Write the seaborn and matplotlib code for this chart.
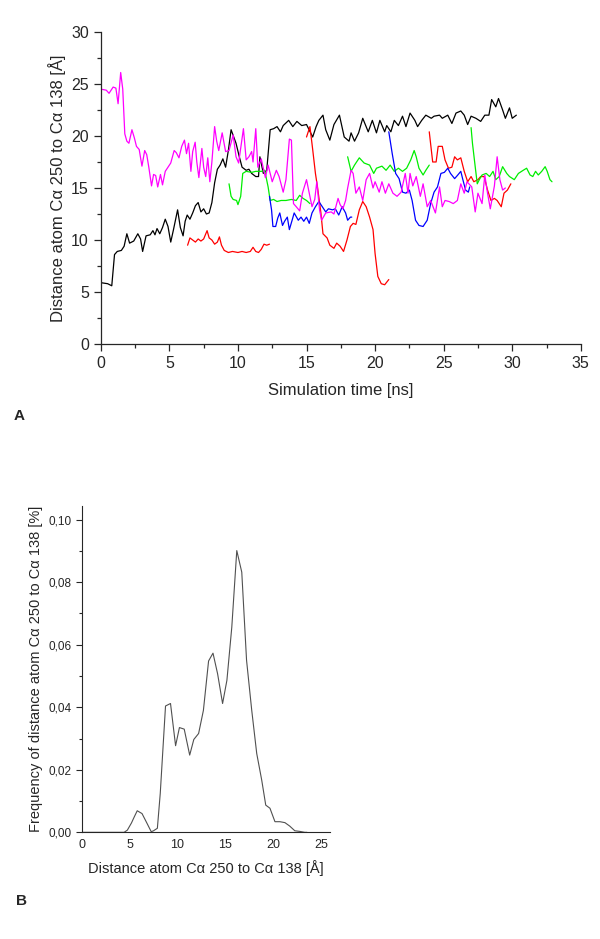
import pandas as pd
import matplotlib
matplotlib.use("Agg")
import matplotlib.pyplot as plt
import seaborn as sns
from matplotlib.ticker import MultipleLocator, FuncFormatter

# Panel A: distance traces (time [ns], distance [A])
black_run = [(0, 5.9), (0.5, 5.8), (0.8, 5.6), (1.0, 8.6), (1.2, 8.9), (1.5, 9.0), (1.7, 9.4), (1.9, 10.6),
             (2.1, 9.7), (2.4, 9.9), (2.7, 10.6), (2.9, 10.1), (3.05, 8.9), (3.3, 10.4), (3.6, 10.5), (3.8, 10.9),
             (3.95, 10.5), (4.1, 11.1), (4.3, 10.6), (4.5, 11.2), (4.7, 12.0), (4.9, 11.3), (5.1, 9.8), (5.3, 11.0),
             (5.6, 12.9), (5.8, 11.2), (6.0, 10.4), (6.15, 11.8), (6.3, 12.4), (6.5, 12.0), (6.7, 12.6), (6.9, 13.3),
             (7.1, 13.6), (7.3, 12.7), (7.5, 13.0), (7.7, 12.5), (7.9, 12.6), (8.1, 13.6), (8.3, 15.5), (8.5, 16.8),
             (8.7, 17.2), (8.9, 17.8), (9.1, 17.0), (9.3, 18.6), (9.5, 20.6), (9.86, 19.3), (10.1, 18.0), (10.3, 17.0),
             (10.6, 16.7), (10.8, 16.8), (11.0, 16.4), (11.3, 16.1), (11.5, 16.1), (11.6, 18.0), (11.85, 16.4),
             (12.1, 16.7), (12.35, 20.6), (12.6, 20.7), (12.85, 20.9), (13.1, 20.4), (13.3, 21.0), (13.7, 21.5),
             (14.0, 20.9), (14.3, 21.4), (14.65, 21.0), (15.0, 21.1), (15.45, 19.9), (15.7, 20.9), (15.9, 21.5),
             (16.2, 22.0), (16.4, 20.6), (16.7, 19.6), (17.0, 21.1), (17.4, 22.0), (17.75, 19.9), (18.1, 19.5),
             (18.25, 20.3), (18.5, 19.5), (18.8, 20.3), (19.1, 21.7), (19.5, 20.4), (19.8, 21.5), (20.1, 20.3),
             (20.35, 21.5), (20.7, 20.4), (20.85, 21.0), (21.15, 20.4), (21.4, 21.5), (21.7, 21.0), (22.0, 21.9),
             (22.25, 20.9), (22.55, 22.2), (22.9, 21.5), (23.1, 20.9), (23.4, 21.5), (23.7, 22.0), (24.1, 21.7),
             (24.3, 21.9), (24.7, 22.0), (24.9, 21.7), (25.3, 22.0), (25.6, 21.2), (25.9, 22.2), (26.25, 22.4),
             (26.5, 22.0), (26.75, 21.1), (27.0, 21.9), (27.35, 21.7), (27.7, 21.4), (28.0, 22.0), (28.3, 22.0),
             (28.5, 23.5), (28.8, 22.8), (29.0, 23.6), (29.3, 22.5), (29.5, 21.7), (29.8, 22.7), (30.0, 21.7),
             (30.3, 22.0)]

magenta_run = [(0, 24.5), (0.4, 24.4), (0.6, 24.1), (0.9, 24.7), (1.1, 24.6), (1.26, 23.1), (1.45, 26.1),
               (1.6, 24.5), (1.75, 20.2), (1.9, 19.5), (2.05, 19.3), (2.27, 20.6), (2.45, 19.8), (2.6, 19.0),
               (2.8, 18.7), (3.0, 17.1), (3.2, 18.6), (3.35, 18.2), (3.5, 17.0), (3.7, 15.2), (3.85, 16.3),
               (4.0, 16.2), (4.15, 15.1), (4.35, 16.3), (4.5, 15.3), (4.7, 16.6), (4.9, 17.0), (5.1, 17.4),
               (5.35, 18.6), (5.5, 18.4), (5.7, 17.9), (5.9, 19.0), (6.1, 19.6), (6.25, 18.3), (6.4, 19.3),
               (6.57, 16.6), (6.7, 18.5), (6.88, 19.4), (7.0, 17.5), (7.15, 16.0), (7.37, 18.8), (7.5, 17.0),
               (7.65, 16.1), (7.8, 17.9), (7.95, 15.6), (8.1, 17.5), (8.3, 20.9), (8.45, 19.5), (8.6, 18.6),
               (8.85, 20.3), (9.1, 18.5), (9.35, 18.6), (9.65, 20.1), (9.86, 18.0), (10.05, 17.4), (10.4, 20.7),
               (10.6, 17.7), (10.8, 18.0), (11.0, 18.5), (11.1, 17.5), (11.3, 20.7), (11.45, 17.0), (11.7, 17.8),
               (12.0, 16.0), (12.2, 17.2), (12.5, 15.6), (12.8, 16.7), (13.0, 16.1), (13.3, 14.6), (13.5, 15.8),
               (13.75, 19.7), (13.9, 19.6), (14.05, 13.5), (14.25, 13.2), (14.5, 12.8), (14.7, 14.5), (15.0, 15.8),
               (15.2, 14.5), (15.4, 13.2), (15.6, 13.9), (15.75, 15.6), (15.95, 12.9), (16.1, 11.9), (16.4, 12.6),
               (16.8, 12.7), (17.0, 12.5), (17.3, 14.0), (17.45, 13.4), (17.65, 13.0), (17.85, 13.8), (18.0, 15.0),
               (18.25, 16.7), (18.4, 16.4), (18.6, 14.5), (18.85, 15.1), (19.1, 13.8), (19.35, 15.8), (19.6, 16.4),
               (19.85, 15.0), (20.0, 15.6), (20.3, 14.6), (20.5, 15.6), (20.75, 14.5), (21.0, 15.4), (21.3, 14.5),
               (21.6, 14.2), (21.9, 14.6), (22.2, 16.4), (22.4, 14.5), (22.55, 16.4), (22.75, 15.2), (23.0, 16.1),
               (23.3, 14.2), (23.5, 15.4), (23.8, 13.2), (24.05, 13.8), (24.4, 12.6), (24.7, 15.1), (24.9, 13.2),
               (25.1, 13.8), (25.4, 13.7), (25.7, 13.5), (26.0, 13.8), (26.25, 15.4), (26.5, 14.5), (26.7, 15.6),
               (27.05, 15.1), (27.3, 12.7), (27.5, 14.5), (27.8, 13.5), (28.0, 16.25), (28.2, 14.5), (28.4, 13.0),
               (28.7, 15.2), (28.9, 18.0), (29.1, 15.8), (29.3, 14.8), (29.5, 15.0)]

red_seg1 = [(6.33, 9.5), (6.5, 10.2), (6.7, 10.0), (6.9, 9.8), (7.1, 10.1), (7.3, 9.9), (7.5, 10.1), (7.75, 10.9),
            (7.9, 10.2), (8.1, 10.0), (8.3, 9.6), (8.5, 9.8), (8.65, 10.3), (8.8, 9.5), (9.0, 9.0), (9.3, 8.8),
            (9.6, 8.9), (10.0, 8.8), (10.3, 8.9), (10.6, 8.8), (10.9, 8.9), (11.1, 9.3), (11.3, 8.9), (11.5, 8.8),
            (11.7, 9.1), (11.9, 9.6), (12.1, 9.5), (12.3, 9.6)]
red_seg2 = [(15.0, 19.9), (15.25, 20.9), (15.45, 18.7), (15.65, 16.4), (15.8, 15.1), (16.05, 12.6), (16.2, 10.6),
            (16.5, 10.2), (16.7, 9.5), (17.0, 9.2), (17.2, 9.7), (17.45, 9.4), (17.7, 8.9), (17.95, 10.0),
            (18.2, 11.3), (18.4, 11.6), (18.6, 11.5), (18.85, 12.9), (19.1, 13.7), (19.35, 13.2), (19.6, 12.2),
            (19.85, 11.0), (20.0, 8.7), (20.2, 6.5), (20.45, 5.8), (20.7, 5.7), (21.0, 6.2)]
red_seg3 = [(23.95, 20.4), (24.2, 17.5), (24.45, 17.5), (24.6, 19.0), (24.9, 19.0), (25.1, 17.7), (25.35, 16.9),
            (25.6, 17.0), (25.8, 18.0), (26.0, 17.7), (26.25, 17.9), (26.5, 16.6), (26.75, 15.6), (27.0, 16.1),
            (27.2, 15.6), (27.5, 15.8), (27.7, 16.1), (27.95, 16.1), (28.2, 14.8), (28.45, 13.8), (28.7, 14.0),
            (28.9, 13.8), (29.2, 13.2), (29.4, 14.5), (29.65, 14.8), (29.9, 15.4)]

green_seg1 = [(9.35, 15.4), (9.5, 14.2), (9.65, 13.9), (9.9, 13.8), (10.0, 13.4), (10.2, 14.2), (10.35, 16.4),
              (10.6, 16.6), (11.0, 16.5), (11.3, 16.6), (11.7, 16.6), (11.95, 16.7), (12.2, 15.1), (12.35, 13.8),
              (12.6, 13.9), (12.85, 13.7), (13.15, 13.8), (13.5, 13.8), (13.9, 13.9), (14.25, 13.8), (14.5, 14.3),
              (14.75, 14.0), (15.0, 13.8), (15.25, 13.5)]
green_seg2 = [(18.0, 18.0), (18.25, 16.6), (18.5, 17.2), (18.85, 17.9), (19.2, 17.4), (19.6, 17.2), (19.9, 16.4),
              (20.1, 16.9), (20.5, 17.1), (20.8, 16.7), (21.1, 17.2), (21.4, 16.6), (21.7, 16.9), (22.0, 16.6),
              (22.3, 16.9), (22.6, 17.7), (22.85, 18.6), (23.0, 18.0), (23.2, 16.9), (23.5, 16.25), (23.7, 16.7),
              (23.95, 17.2)]
green_seg3 = [(27.0, 20.8), (27.1, 19.3), (27.3, 17.05), (27.45, 15.4), (27.6, 15.8), (27.8, 16.25), (28.1, 16.4),
              (28.35, 16.1), (28.6, 16.6), (28.8, 15.8), (29.05, 16.1), (29.3, 17.05), (29.6, 16.4), (29.8, 16.1),
              (30.15, 15.8), (30.45, 16.4), (30.8, 16.7), (31.05, 16.9), (31.3, 16.25), (31.5, 16.1), (31.7, 16.6),
              (31.9, 16.25), (32.15, 16.6), (32.4, 17.05), (32.55, 16.6), (32.75, 15.8), (32.9, 15.6)]

blue_seg1 = [(12.3, 14.2), (12.45, 12.9), (12.55, 11.3), (12.75, 11.3), (12.9, 12.1), (13.05, 12.6), (13.25, 11.4),
             (13.4, 11.8), (13.6, 12.2), (13.75, 11.0), (13.95, 11.9), (14.1, 12.6), (14.4, 11.9), (14.6, 12.2),
             (14.8, 11.8), (15.0, 12.2), (15.2, 11.6), (15.4, 12.6), (15.65, 13.2), (15.9, 13.7), (16.15, 13.2),
             (16.4, 12.7), (16.6, 13.0), (16.9, 12.9), (17.1, 13.0), (17.35, 12.4), (17.6, 13.2), (17.85, 12.6),
             (18.0, 11.9), (18.2, 12.2), (18.3, 12.2)]
blue_seg2 = [(21.0, 20.4), (21.25, 18.3), (21.5, 16.4), (21.75, 15.9), (22.0, 14.6), (22.25, 14.5), (22.5, 14.8),
             (22.7, 13.8), (22.95, 11.9), (23.2, 11.4), (23.5, 11.3), (23.8, 11.9), (24.05, 13.5), (24.3, 14.6),
             (24.55, 15.1), (24.8, 16.4), (25.05, 16.5), (25.3, 16.9), (25.5, 16.4), (25.8, 15.9), (26.0, 16.2),
             (26.25, 16.6), (26.4, 15.8), (26.6, 14.8), (26.8, 14.6), (26.9, 15.1)]

# Panel B: frequency distribution of the distance
dist_bins = [0, 4.0, 4.43, 4.77, 5.2, 5.5, 5.8, 6.3, 6.8, 7.26, 7.5, 7.9, 8.2, 8.75, 9.27, 9.8, 10.2, 10.7,
             11.27, 11.7, 12.2, 12.7, 13.24, 13.7, 14.18, 14.7, 15.15, 15.66, 16.18, 16.7, 17.2, 17.74, 18.26,
             18.78, 19.2, 19.64, 20.16, 20.68, 21.2, 21.7, 22.23, 22.75, 23.27, 23.5]
dist_freq = [0, 0, 0, 0.0007, 0.003, 0.005, 0.0069, 0.006, 0.003, 0.0002, 0.0005, 0.0013, 0.0124, 0.0404,
             0.0412, 0.0277, 0.0335, 0.033, 0.0247, 0.0297, 0.0316, 0.039, 0.0548, 0.0573, 0.0507, 0.0412,
             0.0486, 0.0656, 0.0901, 0.0832, 0.055, 0.039, 0.0252, 0.0167, 0.0087, 0.0077, 0.0034, 0.0034,
             0.0031, 0.002, 0.0005, 0.0003, 0, 0]

segments = [("black", black_run), ("red", red_seg1), ("red", red_seg2), ("red", red_seg3),
            ("green", green_seg1), ("green", green_seg2), ("green", green_seg3),
            ("blue", blue_seg1), ("blue", blue_seg2), ("magenta", magenta_run)]
colors = {"black": "#000000", "red": "#ff0000", "green": "#00ee00", "blue": "#0000ff", "magenta": "#ff00ff"}

rows = []
for i, (run, seg) in enumerate(segments):
    for t, d in seg:
        rows.append({"run": run, "seg": i, "time": t, "dist": d})
traces = pd.DataFrame(rows)

sns.set_style("ticks")
plt.rcParams["font.family"] = ["Liberation Sans", "DejaVu Sans"]

fig = plt.figure(figsize=(6, 9.39), dpi=100)

# --- panel A
ax1 = fig.add_axes([0.168, 0.6336, 0.80, 0.3324])
sns.lineplot(data=traces, x="time", y="dist", hue="run", units="seg", estimator=None, sort=False,
             palette=colors, hue_order=["black", "red", "green", "blue", "magenta"],
             linewidth=0.9, legend=False, ax=ax1)
ax1.set_xlim(0, 35)
ax1.set_ylim(0, 30)
ax1.xaxis.set_major_locator(MultipleLocator(5))
ax1.xaxis.set_minor_locator(MultipleLocator(2.5))
ax1.yaxis.set_major_locator(MultipleLocator(5))
ax1.yaxis.set_minor_locator(MultipleLocator(2.5))
ax1.tick_params(which="major", length=5, width=0.9, labelsize=11.5, direction="out")
ax1.tick_params(which="minor", length=3, width=0.9, direction="out")
ax1.set_xlabel("Simulation time [ns]", fontsize=12, labelpad=9)
ax1.set_ylabel("Distance atom C\u03b1 250 to C\u03b1 138 [\u00c5]", fontsize=12, labelpad=4)
sns.despine(ax=ax1)
for s in ax1.spines.values():
    s.set_linewidth(0.9)

# --- panel B
ax2 = fig.add_axes([0.136, 0.1136, 0.414, 0.348])
sns.lineplot(x=dist_bins, y=dist_freq, color="#505050", linewidth=0.8, ax=ax2)
ax2.set_xlim(0, 25.9)
ax2.set_ylim(0, 0.1045)
ax2.xaxis.set_major_locator(MultipleLocator(5))
ax2.yaxis.set_major_locator(MultipleLocator(0.02))
ax2.yaxis.set_minor_locator(MultipleLocator(0.01))
ax2.yaxis.set_major_formatter(FuncFormatter(lambda v, p: f"{v:.2f}".replace(".", ",")))
ax2.tick_params(axis="x", length=0, labelsize=9, pad=5)
ax2.tick_params(axis="y", which="major", length=4, width=0.8, labelsize=8.5, pad=3)
ax2.tick_params(axis="y", which="minor", length=2.5, width=0.8)
ax2.set_xlabel("Distance atom C\u03b1 250 to C\u03b1 138 [\u00c5]", fontsize=10.5, labelpad=6)
ax2.set_ylabel("Frequency of distance atom C\u03b1 250 to C\u03b1 138 [%]", fontsize=10.5, labelpad=4)
sns.despine(ax=ax2)
for s in ax2.spines.values():
    s.set_linewidth(0.8)

fig.text(0.022, 0.553, "A", fontsize=11, fontweight="bold")
fig.text(0.026, 0.036, "B", fontsize=11, fontweight="bold")

plt.savefig("out.png", dpi=100)
